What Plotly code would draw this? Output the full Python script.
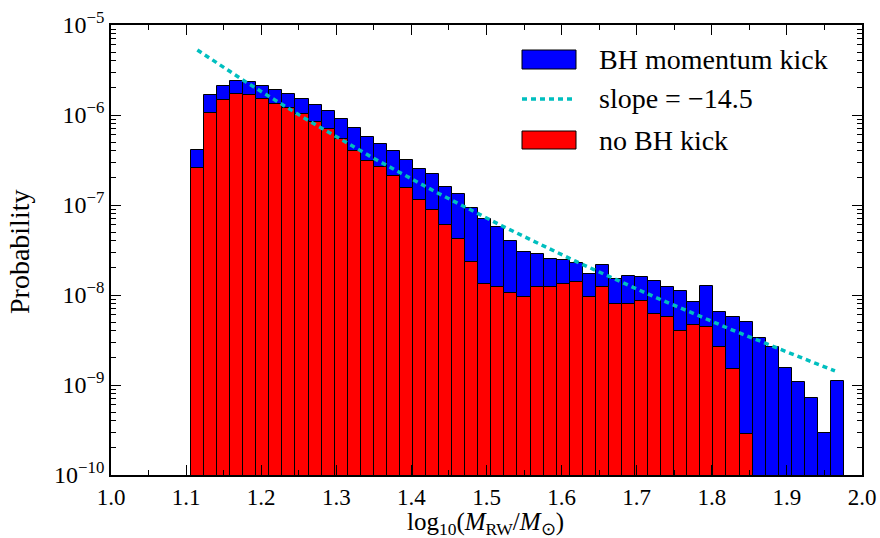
import numpy as np
import plotly.graph_objects as go

# Histogram binning (50 equal bins in log10 mass)
bin_lo, bin_hi, n_bins = 1.1065, 1.976, 50

# Probability per bin, with the BH momentum kick
p_kick = [
    4.08e-7, 1.67e-6, 2.12e-6, 2.37e-6, 2.31e-6, 2.08e-6, 1.90e-6, 1.70e-6, 1.49e-6, 1.28e-6,
    1.10e-6, 8.95e-7, 7.11e-7, 5.65e-7, 4.76e-7, 3.98e-7, 3.19e-7, 2.49e-7, 2.19e-7, 1.58e-7,
    1.32e-7, 9.27e-8, 6.98e-8, 5.74e-8, 3.98e-8, 2.98e-8, 2.88e-8, 2.51e-8, 2.43e-8, 2.29e-8,
    1.71e-8, 2.15e-8, 1.49e-8, 1.61e-8, 1.60e-8, 1.43e-8, 1.22e-8, 1.10e-8, 8.30e-9, 1.27e-8,
    6.41e-9, 5.70e-9, 5.01e-9, 3.33e-9, 2.64e-9, 1.53e-9, 1.07e-9, 7.11e-10, 2.90e-10, 1.12e-9,
]

# Probability per bin, without the BH kick (only the first 43 bins are populated)
p_nokick = [
    2.60e-7, 1.04e-6, 1.46e-6, 1.70e-6, 1.66e-6, 1.52e-6, 1.34e-6, 1.19e-6, 1.02e-6, 8.30e-7,
    6.93e-7, 5.46e-7, 3.98e-7, 3.08e-7, 2.62e-7, 2.08e-7, 1.53e-7, 1.13e-7, 8.87e-8, 5.94e-8,
    4.19e-8, 2.33e-8, 1.32e-8, 1.22e-8, 1.06e-8, 9.42e-9, 1.24e-8, 1.24e-8, 1.34e-8, 1.41e-8,
    9.42e-9, 1.23e-8, 7.94e-9, 8.02e-9, 8.51e-9, 6.10e-9, 5.70e-9, 3.94e-9, 4.60e-9, 4.38e-9,
    2.64e-9, 1.51e-9, 2.83e-10,
]

# Power-law fit: P = norm * x**slope
fit_slope = -14.5
fit_norm = 2.556e-5
fit_x_lo, fit_x_hi = 1.115, 1.964

# Axis ticks
x_tick_vals = [1.0, 1.1, 1.2, 1.3, 1.4, 1.5, 1.6, 1.7, 1.8, 1.9, 2.0]
x_tick_text = ["1.0", "1.1", "1.2", "1.3", "1.4", "1.5", "1.6", "1.7", "1.8", "1.9", "2.0"]
y_exponents = [-10, -9, -8, -7, -6, -5]
y_tick_text = ["10<sup>\u2212%d</sup>" % (-e) for e in y_exponents]

legend_labels = ["BH momentum kick", "slope = \u221214.5", "no BH kick"]
x_title = "log<sub>10</sub>(<i>M</i><sub>RW</sub>/<i>M</i><sub>\u2299</sub>)"
y_title = "Probability"

# ---------------------------------------------------------------------------
edges = np.linspace(bin_lo, bin_hi, n_bins + 1)
centers = 0.5 * (edges[:-1] + edges[1:])
width = edges[1] - edges[0]

FONT = "Liberation Serif"
W, H = 880, 538
ML, MR, MT, MB = 111, 18, 25, 63
PW, PH = W - ML - MR, H - MT - MB

def px(xp):
    return (xp - ML) / PW

def py(yp):
    return (H - MB - yp) / PH

fig = go.Figure()

fig.add_trace(go.Bar(
    x=centers, y=p_kick, width=width,
    marker=dict(color="#0000ff", line=dict(color="black", width=1)),
    name=legend_labels[0], showlegend=False,
))

fit_x = np.linspace(fit_x_lo, fit_x_hi, 200)
fig.add_trace(go.Scatter(
    x=fit_x, y=fit_norm * fit_x ** fit_slope, mode="lines",
    line=dict(color="#00bfbf", width=3.5, dash="5px,4px"),
    name=legend_labels[1], showlegend=False,
))

n_red = len(p_nokick)
fig.add_trace(go.Bar(
    x=centers[:n_red], y=p_nokick, width=width,
    marker=dict(color="#ff0000", line=dict(color="black", width=1)),
    name=legend_labels[2], showlegend=False,
))

# Legend drawn as shapes + text
shapes = [
    dict(type="rect", xref="paper", yref="paper",
         x0=px(522), x1=px(576), y0=py(69), y1=py(50),
         fillcolor="#0000ff", line=dict(color="black", width=1)),
    dict(type="line", xref="paper", yref="paper",
         x0=px(522), x1=px(572), y0=py(99), y1=py(99),
         line=dict(color="#00bfbf", width=3.5, dash="5px,4px")),
    dict(type="rect", xref="paper", yref="paper",
         x0=px(522), x1=px(576), y0=py(149), y1=py(131),
         fillcolor="#ff0000", line=dict(color="black", width=1)),
]
annotations = []
for label, yc in zip(legend_labels, [60, 99, 140]):
    annotations.append(dict(
        text=label, xref="paper", yref="paper", x=px(597), y=py(yc),
        xanchor="left", yanchor="middle", showarrow=False,
        font=dict(family=FONT, size=28, color="black"),
    ))
# Axis titles
annotations.append(dict(
    text=x_title, xref="paper", yref="paper", x=px(485), y=py(523),
    xanchor="center", yanchor="middle", showarrow=False,
    font=dict(family=FONT, size=25, color="black"),
))
annotations.append(dict(
    text=y_title, xref="paper", yref="paper", x=px(19), y=py(252),
    xanchor="center", yanchor="middle", showarrow=False, textangle=-90,
    font=dict(family=FONT, size=28, color="black"),
))

axis_common = dict(
    showline=True, linecolor="black", linewidth=1.8, mirror="allticks",
    ticks="inside", ticklen=10, tickwidth=1.2, tickcolor="black",
    showgrid=False, zeroline=False, automargin=False,
)

fig.update_layout(
    width=W, height=H,
    margin=dict(l=ML, r=MR, t=MT, b=MB),
    paper_bgcolor="white", plot_bgcolor="white",
    barmode="overlay", bargap=0,
    shapes=shapes, annotations=annotations,
    xaxis=dict(
        range=[1.0, 2.0], tickmode="array", tickvals=x_tick_vals, ticktext=x_tick_text,
        tickfont=dict(family=FONT, size=23, color="black"),
        minor=dict(ticks="inside", ticklen=5, tickwidth=1, tickcolor="black",
                   tickmode="linear", tick0=1.0, dtick=0.05, showgrid=False),
        **axis_common,
    ),
    yaxis=dict(
        type="log", range=[-10, -5], tickmode="array",
        tickvals=[10.0 ** e for e in y_exponents], ticktext=y_tick_text,
        tickfont=dict(family=FONT, size=24, color="black"),
        minor=dict(ticks="inside", ticklen=5, tickwidth=1, tickcolor="black",
                   tickmode="array",
                   tickvals=[m * 10.0 ** e for e in y_exponents[:-1] for m in range(2, 10)],
                   showgrid=False),
        **axis_common,
    ),
)

fig.write_html("out.html")
